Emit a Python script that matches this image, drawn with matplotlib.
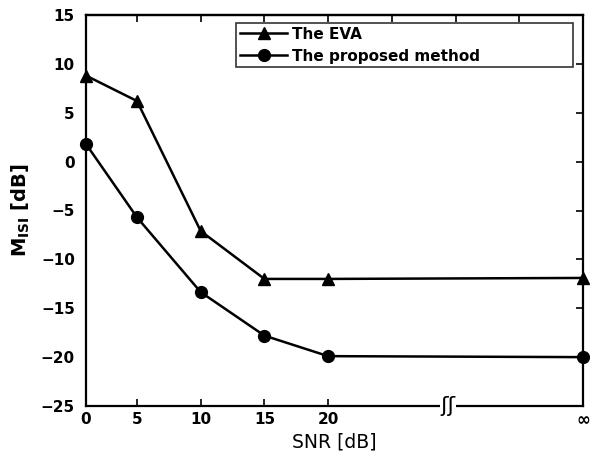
import matplotlib
matplotlib.use("Agg")
import matplotlib.pyplot as plt
import numpy as np

# Data
snr_pos = [1, 5, 10, 15, 20, 40]          # plotting positions of the SNR values
snr_labels = ['0', '5', '10', '15', '20', '∞']
eva = [8.8, 6.2, -7.1, -12.0, -12.0, -11.9]
proposed = [1.8, -5.7, -13.35, -17.8, -19.9, -20.0]
yticks = [-25, -20, -15, -10, -5, 0, 5, 10, 15]
top_ticks = [5, 10, 15, 20, 25, 30, 35]

plt.rcParams['font.family'] = ['DejaVu Sans']
plt.rcParams['mathtext.fontset'] = 'dejavusans'

fig = plt.figure(figsize=(5.90, 4.59), dpi=100)
ax = fig.add_axes([86/590, 1-406/459, 497/590, 391/459])

ax.plot(snr_pos, eva, color='black', lw=1.8, marker='^', ms=9, label='The EVA', clip_on=False, zorder=3)
ax.plot(snr_pos, proposed, color='black', lw=1.8, marker='o', ms=8.5, label='The proposed method', clip_on=False, zorder=3)

ax.set_xlim(1, 40)
ax.set_ylim(-25, 15)
ax.set_xticks(snr_pos)
ax.set_xticklabels(snr_labels, fontsize=11, fontweight='bold')
ax.get_xticklabels()[-1].set_fontsize(12)
ax.set_yticks(yticks)
ax.set_yticklabels([str(v).replace('-', '\u2212') for v in yticks], fontsize=11, fontweight='bold')

ax.tick_params(axis='x', direction='in', length=5, width=1.2, pad=4, top=False)
ax.tick_params(axis='y', direction='in', length=5, width=1.2, left=False, right=True, labelleft=True, pad=8)
for s in ax.spines.values():
    s.set_linewidth(1.6)

sec = ax.secondary_xaxis('top')
sec.set_xticks(top_ticks)
sec.set_xticklabels([''] * len(top_ticks))
sec.tick_params(direction='in', length=5, width=1.2)
sec.spines['top'].set_linewidth(1.6)

ax.set_xlabel('SNR [dB]', fontsize=13.5, labelpad=2)
ax.set_ylabel(r'M$_{\mathbf{ISI}}$ [dB]', fontsize=14, fontweight='bold', labelpad=6)

# axis break symbol on the bottom spine
ax.text(29.4, -25, 'ʃʃ', ha='center', va='center', fontsize=16, family='DejaVu Sans',
        bbox=dict(facecolor='white', edgecolor='none', pad=0.3), zorder=5, clip_on=False)

leg = ax.legend(loc='upper left', bbox_to_anchor=(0.302, 0.855, 0.678, 0.125), mode='expand',
                borderaxespad=0, frameon=True, fancybox=False, edgecolor='black',
                handlelength=3.1, handletextpad=0.3, borderpad=0.25, labelspacing=0.45,
                prop={'weight': 'bold', 'size': 11})
leg.get_frame().set_linewidth(1.2)

fig.savefig('out.png', dpi=100)
